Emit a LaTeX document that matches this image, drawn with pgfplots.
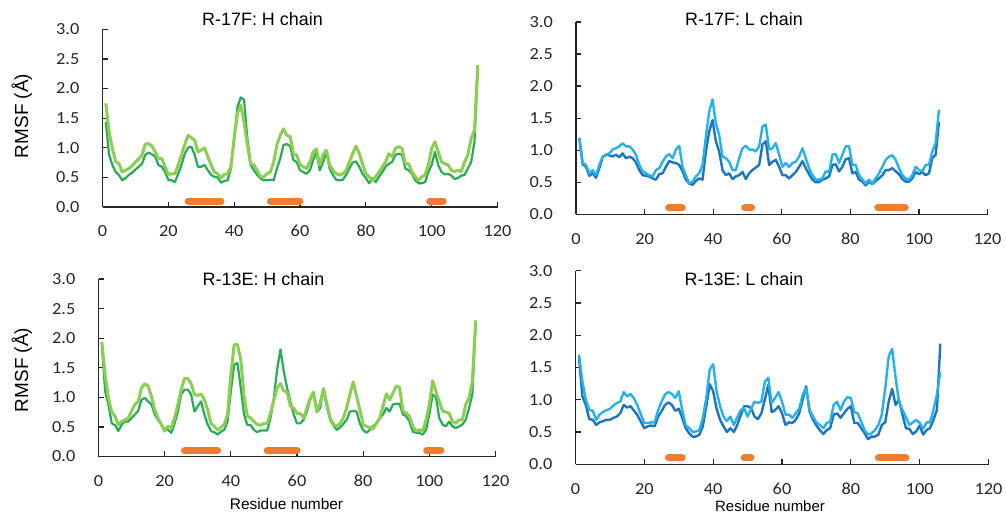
\documentclass[border=0pt]{standalone}
\usepackage{fontspec}
\setmainfont{Liberation Sans}
\newfontfamily\carlito[FakeStretch=1.08]{Carlito}
\usepackage{pgfplots}
\usepackage{pgfplotstable}
\pgfplotsset{compat=1.18}
\definecolor{dgreen}{RGB}{38,172,86}
\definecolor{lgreen}{RGB}{140,206,82}
\definecolor{dblue}{RGB}{28,116,194}
\definecolor{lblue}{RGB}{36,178,232}
\definecolor{orng}{RGB}{237,125,49}
\definecolor{axc}{RGB}{38,38,38}

\pgfplotstableread{
x d l
1 1.44 1.75
2 0.88 1.27
3 0.71 0.99
4 0.59 0.77
5 0.54 0.73
6 0.45 0.59
7 0.49 0.62
8 0.54 0.65
9 0.58 0.69
10 0.63 0.76
11 0.68 0.81
12 0.73 0.88
13 0.88 1.06
14 0.92 1.07
15 0.89 1.03
16 0.85 0.93
17 0.71 0.81
18 0.68 0.82
19 0.59 0.68
20 0.46 0.55
21 0.45 0.56
22 0.42 0.56
23 0.56 0.71
24 0.71 0.88
25 0.90 1.06
26 1.00 1.21
27 1.02 1.17
28 0.88 1.13
29 0.68 0.93
30 0.68 0.96
31 0.71 1.00
32 0.62 0.85
33 0.54 0.71
34 0.51 0.59
35 0.50 0.56
36 0.41 0.49
37 0.44 0.55
38 0.45 0.56
39 0.65 0.68
40 1.16 1.16
41 1.69 1.58
42 1.85 1.72
43 1.81 1.44
44 1.16 1.05
45 0.71 0.73
46 0.62 0.71
47 0.54 0.62
48 0.48 0.51
49 0.45 0.51
50 0.45 0.56
51 0.46 0.59
52 0.45 0.76
53 0.65 1.05
54 0.82 1.21
55 1.05 1.32
56 1.06 1.21
57 1.03 1.19
58 0.79 0.90
59 0.76 0.88
60 0.62 0.71
61 0.59 0.68
62 0.56 0.65
63 0.62 0.76
64 0.79 0.93
65 0.93 0.98
66 0.62 0.71
67 0.75 0.88
68 0.93 0.96
69 0.65 0.71
70 0.54 0.62
71 0.46 0.56
72 0.45 0.54
73 0.46 0.56
74 0.54 0.62
75 0.65 0.76
76 0.75 0.90
77 0.77 1.03
78 0.68 0.90
79 0.56 0.73
80 0.49 0.56
81 0.40 0.51
82 0.49 0.45
83 0.42 0.51
84 0.51 0.59
85 0.59 0.68
86 0.68 0.76
87 0.73 0.90
88 0.76 0.85
89 0.88 0.99
90 0.90 1.02
91 0.88 0.99
92 0.65 0.73
93 0.62 0.73
94 0.56 0.59
95 0.45 0.51
96 0.40 0.45
97 0.40 0.51
98 0.42 0.54
99 0.59 0.71
100 0.71 0.99
101 0.93 1.10
102 0.71 0.93
103 0.59 0.76
104 0.55 0.73
105 0.56 0.71
106 0.53 0.62
107 0.47 0.60
108 0.49 0.62
109 0.53 0.60
110 0.54 0.76
111 0.65 0.88
112 0.76 1.16
113 1.10 1.30
114 2.30 2.40
}\tHA

\pgfplotstableread{
x d l
0.97 1.19 1.19
1.94 0.78 0.80
2.91 0.74 0.77
3.88 0.60 0.64
4.86 0.64 0.69
5.83 0.57 0.61
6.80 0.72 0.77
7.77 0.89 0.90
8.74 0.93 0.93
9.71 0.92 0.95
10.68 0.90 1.01
11.65 0.93 1.03
12.62 0.89 1.06
13.59 0.95 1.11
14.57 0.875 1.06
15.54 0.90 1.06
16.51 0.875 1.01
17.48 0.81 0.93
18.45 0.69 0.77
19.42 0.61 0.67
20.39 0.60 0.64
21.36 0.59 0.61
22.33 0.56 0.59
23.30 0.54 0.69
24.28 0.625 0.72
25.25 0.64 0.82
26.22 0.74 0.90
27.19 0.83 0.94
28.16 0.81 0.875
29.13 0.80 1.01
30.10 0.77 1.07
31.07 0.67 0.74
32.04 0.54 0.61
33.01 0.48 0.48
33.99 0.46 0.51
34.96 0.52 0.59
35.93 0.56 0.64
36.90 0.54 0.77
37.87 0.98 1.21
38.84 1.29 1.60
39.81 1.47 1.79
40.78 1.14 1.42
41.75 0.98 1.24
42.72 0.69 0.90
43.70 0.61 0.875
44.67 0.64 0.82
45.64 0.55 0.69
46.61 0.59 0.69
47.58 0.61 0.875
48.55 0.66 1.03
49.52 0.55 1.07
50.49 0.64 1.01
51.46 0.69 1.01
52.43 0.73 0.98
53.41 0.77 1.06
54.38 1.09 1.37
55.35 1.14 1.40
56.32 0.77 1.01
57.29 0.82 1.03
58.26 0.85 1.11
59.23 0.74 0.93
60.20 0.61 0.74
61.17 0.61 0.80
62.14 0.56 0.74
63.12 0.61 0.80
64.09 0.66 0.82
65.06 0.74 0.90
66.03 0.83 1.03
67.00 0.72 0.875
67.97 0.625 0.72
68.94 0.54 0.61
69.91 0.50 0.54
70.88 0.50 0.54
71.85 0.54 0.56
72.83 0.56 0.67
73.80 0.59 0.66
74.77 0.77 0.93
75.74 0.78 0.94
76.71 0.67 0.80
77.68 0.74 0.93
78.65 0.86 1.06
79.62 0.875 1.06
80.59 0.64 0.77
81.56 0.66 0.77
82.54 0.54 0.61
83.51 0.51 0.54
84.48 0.45 0.48
85.45 0.51 0.54
86.42 0.47 0.48
87.39 0.52 0.56
88.36 0.56 0.64
89.33 0.61 0.74
90.30 0.69 0.85
91.27 0.69 0.90
92.25 0.72 0.92
93.22 0.67 0.85
94.19 0.625 0.72
95.16 0.55 0.61
96.13 0.51 0.56
97.10 0.51 0.54
98.07 0.56 0.61
99.04 0.66 0.74
100.01 0.625 0.69
100.98 0.66 0.67
101.96 0.61 0.77
102.93 0.64 0.77
103.90 0.875 0.98
104.87 0.93 1.11
105.84 1.44 1.63
}\tLA

\pgfplotstableread{
x d l
1 1.92 1.94
2 1.10 1.38
3 0.88 0.99
4 0.56 0.75
5 0.53 0.68
6 0.43 0.54
7 0.54 0.59
8 0.59 0.62
9 0.59 0.65
10 0.65 0.77
11 0.71 0.88
12 0.77 0.93
13 0.96 1.16
14 0.99 1.23
15 0.93 1.19
16 0.88 1.02
17 0.71 0.79
18 0.62 0.65
19 0.54 0.54
20 0.45 0.43
21 0.45 0.51
22 0.40 0.48
23 0.56 0.65
24 0.76 0.88
25 1.05 1.13
26 1.13 1.32
27 1.13 1.32
28 1.05 1.23
29 0.76 1.05
30 0.85 1.03
31 0.93 1.06
32 0.71 0.96
33 0.54 0.79
34 0.43 0.56
35 0.41 0.51
36 0.37 0.45
37 0.42 0.49
38 0.45 0.54
39 0.59 0.71
40 1.10 1.38
41 1.55 1.89
42 1.58 1.89
43 1.16 1.64
44 0.71 1.02
45 0.53 0.68
46 0.53 0.65
47 0.45 0.59
48 0.41 0.54
49 0.44 0.53
50 0.44 0.56
51 0.44 0.56
52 0.65 0.73
53 0.99 0.96
54 1.47 1.16
55 1.81 1.23
56 1.44 1.11
57 1.16 1.09
58 0.93 0.85
59 0.71 0.82
60 0.56 0.73
61 0.56 0.73
62 0.62 0.65
63 0.76 0.82
64 0.96 0.99
65 1.07 1.09
66 0.75 0.76
67 0.82 0.90
68 1.13 1.15
69 0.85 0.90
70 0.62 0.65
71 0.53 0.55
72 0.45 0.51
73 0.49 0.56
74 0.55 0.65
75 0.62 0.82
76 0.76 1.05
77 0.77 1.26
78 0.76 1.02
79 0.56 0.79
80 0.45 0.54
81 0.40 0.51
82 0.45 0.49
83 0.51 0.47
84 0.56 0.56
85 0.65 0.65
86 0.71 0.85
87 0.82 1.06
88 0.76 0.96
89 0.88 1.07
90 0.89 1.19
91 0.89 1.17
92 0.71 0.77
93 0.68 0.73
94 0.59 0.68
95 0.42 0.51
96 0.40 0.43
97 0.40 0.45
98 0.37 0.43
99 0.45 0.62
100 0.71 0.88
101 1.05 1.28
102 1.00 1.10
103 0.65 0.93
104 0.54 0.77
105 0.51 0.75
106 0.59 0.73
107 0.51 0.59
108 0.48 0.56
109 0.51 0.62
110 0.54 0.62
111 0.62 0.88
112 0.82 0.99
113 1.05 1.27
114 2.23 2.30
}\tHB

\pgfplotstableread{
x d l
1 1.67 1.70
2 1.05 1.28
3 0.92 1.00
4 0.70 0.84
5 0.69 0.83
6 0.61 0.69
7 0.65 0.77
8 0.67 0.81
9 0.69 0.84
10 0.69 0.86
11 0.72 0.91
12 0.74 0.95
13 0.79 0.97
14 0.92 1.12
15 0.88 1.05
16 0.90 1.09
17 0.83 1.02
18 0.76 0.91
19 0.66 0.77
20 0.56 0.64
21 0.59 0.64
22 0.60 0.65
23 0.59 0.65
24 0.74 0.84
25 0.82 0.97
26 0.92 1.08
27 0.96 1.12
28 0.92 1.09
29 0.83 1.03
30 0.86 1.13
31 0.72 0.84
32 0.56 0.61
33 0.48 0.56
34 0.43 0.50
35 0.43 0.51
36 0.46 0.53
37 0.59 0.72
38 0.90 1.03
39 1.24 1.47
40 1.13 1.55
41 0.86 1.13
42 0.69 0.90
43 0.59 0.74
44 0.50 0.67
45 0.56 0.74
46 0.50 0.61
47 0.61 0.73
48 0.76 0.84
49 0.90 0.87
50 0.90 0.74
51 0.87 0.86
52 0.74 0.97
53 0.70 0.95
54 0.79 0.97
55 1.00 1.28
56 1.23 1.34
57 0.81 0.95
58 0.84 1.03
59 0.90 1.12
60 0.79 0.97
61 0.61 0.77
62 0.65 0.77
63 0.64 0.72
64 0.69 0.79
65 0.79 0.86
66 1.00 1.08
67 1.21 1.18
68 0.82 0.84
69 0.69 0.74
70 0.60 0.65
71 0.53 0.61
72 0.47 0.56
73 0.53 0.64
74 0.56 0.66
75 0.77 0.92
76 0.79 0.97
77 0.72 0.84
78 0.79 0.97
79 0.86 1.04
80 0.90 1.03
81 0.64 0.81
82 0.64 0.79
83 0.56 0.66
84 0.48 0.53
85 0.39 0.46
86 0.43 0.48
87 0.43 0.53
88 0.46 0.61
89 0.61 0.77
90 0.65 1.18
91 0.97 1.67
92 1.17 1.79
93 0.92 1.34
94 1.00 0.97
95 0.77 0.84
96 0.56 0.73
97 0.55 0.61
98 0.47 0.65
99 0.51 0.69
100 0.60 0.64
101 0.46 0.55
102 0.53 0.65
103 0.56 0.65
104 0.69 0.84
105 0.84 1.08
106 1.87 1.43
}\tLB

\pgfplotsset{rmsf/.style={
  scale only axis, xmin=0, xmax=120, ymin=0, ymax=3,
  axis x line*=bottom, axis y line*=left,
  axis line style={-, line width=1.2bp, axc},
  xtick={0,20,...,120}, ytick={0,0.5,...,3},
  tick align=inside, major tick length=5bp,
  every tick/.style={line width=1.2bp, axc},
  tick label style={font=\carlito\fontsize{17}{17}\selectfont, text=axc},
  /pgf/number format/assume math mode=true,
  yticklabel style={/pgf/number format/fixed, /pgf/number format/fixed zerofill, /pgf/number format/precision=1, anchor=east, inner sep=0pt, xshift=-23bp},
  xticklabel style={anchor=base, inner sep=0pt, yshift=-30bp},
  clip=false,
}}

\begin{document}
\begin{tikzpicture}
\path[use as bounding box] (0,0) rectangle (1006bp,516bp);

% top left
\begin{axis}[rmsf, at={(102.5bp,309bp)}, anchor=south west, width=395bp, height=177.7bp]
\addplot[dgreen, line width=2.2bp, line join=round] table[x=x,y=d]{\tHA};
\addplot[lgreen, line width=3bp, line join=round] table[x=x,y=l]{\tHA};
\addplot[orng, line width=7bp, line cap=round] coordinates {(26,0.1) (36,0.1)};
\addplot[orng, line width=7bp, line cap=round] coordinates {(51,0.1) (60,0.1)};
\addplot[orng, line width=7bp, line cap=round] coordinates {(99.4,0.1) (103.5,0.1)};
\end{axis}

% top right
\begin{axis}[rmsf, at={(576bp,301.7bp)}, anchor=south west, width=411.5bp, height=192.3bp]
\addplot[dblue, line width=2.4bp, line join=round] table[x=x,y=d]{\tLA};
\addplot[lblue, line width=2.4bp, line join=round] table[x=x,y=l]{\tLA};
\addplot[orng, line width=7bp, line cap=round] coordinates {(27,0.1) (31,0.1)};
\addplot[orng, line width=7bp, line cap=round] coordinates {(49.2,0.1) (51.2,0.1)};
\addplot[orng, line width=7bp, line cap=round] coordinates {(88,0.1) (96,0.1)};
\end{axis}

% bottom left
\begin{axis}[rmsf, at={(98.5bp,59.5bp)}, anchor=south west, width=397bp, height=177.5bp]
\addplot[dgreen, line width=2.2bp, line join=round] table[x=x,y=d]{\tHB};
\addplot[lgreen, line width=3bp, line join=round] table[x=x,y=l]{\tHB};
\addplot[orng, line width=7bp, line cap=round] coordinates {(26,0.1) (36,0.1)};
\addplot[orng, line width=7bp, line cap=round] coordinates {(51,0.1) (60,0.1)};
\addplot[orng, line width=7bp, line cap=round] coordinates {(99.2,0.1) (103.5,0.1)};
\end{axis}

% bottom right
\begin{axis}[rmsf, at={(575.5bp,51.7bp)}, anchor=south west, width=413bp, height=193.6bp]
\addplot[dblue, line width=2.4bp, line join=round] table[x=x,y=d]{\tLB};
\addplot[lblue, line width=2.4bp, line join=round] table[x=x,y=l]{\tLB};
\addplot[orng, line width=7bp, line cap=round] coordinates {(27,0.1) (31,0.1)};
\addplot[orng, line width=7bp, line cap=round] coordinates {(49,0.1) (51,0.1)};
\addplot[orng, line width=7bp, line cap=round] coordinates {(88,0.1) (96,0.1)};
\end{axis}

\begin{scope}[every node/.style={text=black, inner sep=0pt}]
\node[anchor=base, font=\fontsize{18}{18}\selectfont] at (262.5bp,490bp) {R-17F: H chain};
\node[anchor=base, font=\fontsize{18}{18}\selectfont] at (744bp,490bp) {R-17F: L chain};
\node[anchor=base, font=\fontsize{18}{18}\selectfont] at (263.5bp,230bp) {R-13E: H chain};
\node[anchor=base, font=\fontsize{18}{18}\selectfont] at (744bp,230bp) {R-13E: L chain};
\node[anchor=base, rotate=90, font=\fontsize{19}{19}\selectfont] at (28bp,400bp) {RMSF (Å)};
\node[anchor=base, rotate=90, font=\fontsize{19}{19}\selectfont] at (28bp,146bp) {RMSF (Å)};
\node[anchor=base, font=\fontsize{15.5}{15.5}\selectfont] at (286.5bp,7bp) {Residue number};
\node[anchor=base, font=\fontsize{15}{15}\selectfont] at (770bp,5bp) {Residue number};
\end{scope}
\end{tikzpicture}
\end{document}
